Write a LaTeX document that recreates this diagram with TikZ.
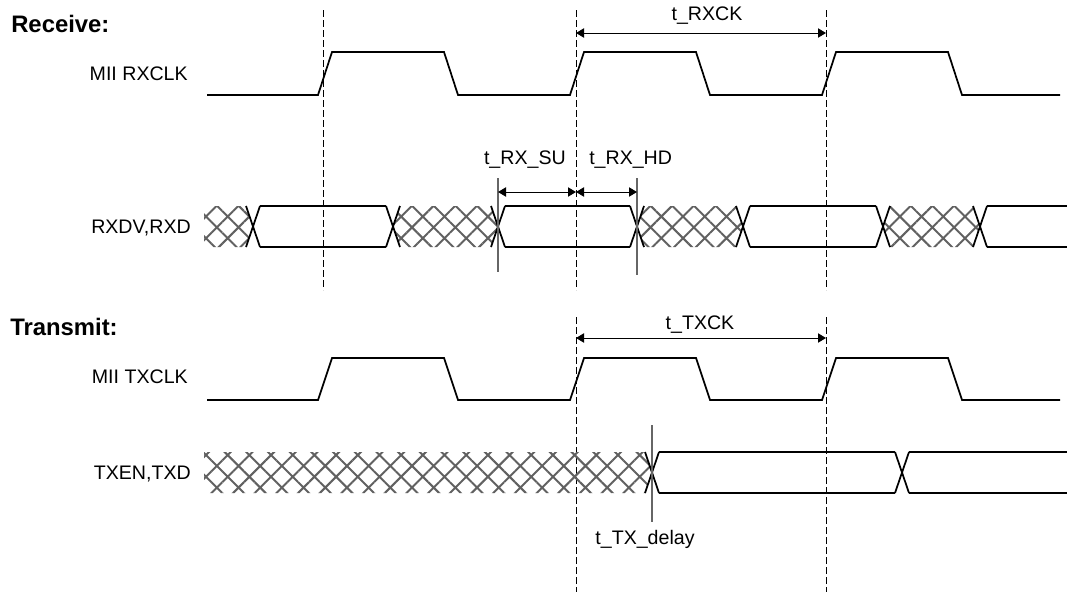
\documentclass[tikz,border=0pt]{standalone}
\usepackage{fontspec}
\setmainfont{Liberation Sans}
\usetikzlibrary{arrows.meta, patterns.meta}

\begin{document}
\begin{tikzpicture}[x=0.75pt, y=-0.75pt,
  sig/.style={line width=1.3pt, line join=miter},
  guide/.style={dash pattern=on 5pt off 2.5pt, line width=0.7pt},
  edgeline/.style={draw=black!60, line width=0.8pt},
  hatch/.style={pattern={Hatch[angle=45, distance=11.5pt, line width=1.5pt]},
              pattern color=black!62},
  dim/.style={{Triangle[length=6pt,width=7pt]}-{Triangle[length=6pt,width=7pt]},
              line width=0.7pt},
  lbl/.style={font=\fontsize{14.7}{17}\selectfont, inner sep=0pt},
  head/.style={font=\fontsize{17.9}{21}\selectfont\bfseries, inner sep=0pt}]

  \useasboundingbox (0,0) rectangle (1067,596);

  % section and signal labels
  \node[head, anchor=base west] (rxhead) at (11,32)  {Receive:};
  \node[lbl,  anchor=base east] (rxclk)  at (188,80) {MII RXCLK};
  \node[lbl,  anchor=base east] (rxd)    at (191,233) {RXDV,RXD};
  \node[head, anchor=base west] (txhead) at (10,335) {Transmit:};
  \node[lbl,  anchor=base east] (txclk)  at (188,383) {MII TXCLK};
  \node[lbl,  anchor=base east] (txd)    at (191,479) {TXEN,TXD};

  % clock reference lines
  \foreach \x in {323,576,826}
    \draw[guide] (\x,10) -- (\x,290);
  \foreach \x in {576,826}
    \draw[guide] (\x,317) -- (\x,592);

  % clocks
  \foreach \hi/\lo in {52/95, 358/400}
    \draw[sig] (207,\lo) \foreach \r in {325,577,829}{
      -- (\r-7,\lo) -- (\r+7,\hi) -- (\r+119,\hi) -- (\r+133,\lo)} -- (1060,\lo);

  % RXDV,RXD
  \fill[hatch] (204,206) -- (246,206) -- (253,226.5) -- (246,247) -- (204,247) -- cycle;
  \foreach \a/\b in {393/498, 637/743, 883/980}
    \fill[hatch] (\a,226.5) -- (\a+7,206) -- (\b-7,206) -- (\b,226.5)
      -- (\b-7,247) -- (\a+7,247) -- cycle;
  \foreach \a/\b in {253/393, 498/637, 743/883, 980/1074}
    \draw[sig] (\a+7,206) -- (\b-7,206) (\a+7,247) -- (\b-7,247);
  \foreach \c in {253,393,498,637,743,883,980}
    \draw[sig] (\c-7,206) -- (\c+7,247) (\c-7,247) -- (\c+7,206);

  % TXEN,TXD
  \fill[hatch] (204,452) -- (645,452) -- (652,472.5) -- (645,493) -- (204,493) -- cycle;
  \foreach \a/\b in {652/902, 902/1074}
    \draw[sig] (\a+7,452) -- (\b-7,452) (\a+7,493) -- (\b-7,493);
  \foreach \c in {652,902}
    \draw[sig] (\c-7,452) -- (\c+7,493) (\c-7,493) -- (\c+7,452);

  % setup / hold / delay markers
  \draw[edgeline] (498,178) -- (498,272);
  \draw[edgeline] (637,178) -- (637,275);
  \draw[edgeline] (652,425) -- (652,522);

  \coordinate (rxa) at (576,33);  \coordinate (rxb) at (826,33);
  \coordinate (txa) at (576,338); \coordinate (txb) at (826,338);
  \coordinate (su)  at (498,192); \coordinate (mid) at (576,192);
  \coordinate (hd)  at (637,192);

  \draw[dim] (rxa) -- (rxb);
  \draw[dim] (txa) -- (txb);
  \draw[dim] (su) -- (mid);
  \draw[dim] (mid) -- (hd);

  \node[lbl, anchor=base] (trxck) at (707,21) {t\_RXCK};
  \node[lbl, anchor=base] (ttxck) at (700,329) {t\_TXCK};
  \node[lbl, anchor=base east] (tsu) at (566,164) {t\_RX\_SU};
  \node[lbl, anchor=base west] (thd) at (589,164) {t\_RX\_HD};
  \node[lbl, anchor=base] (tdly) at (645,544) {t\_TX\_delay};
\end{tikzpicture}
\end{document}
